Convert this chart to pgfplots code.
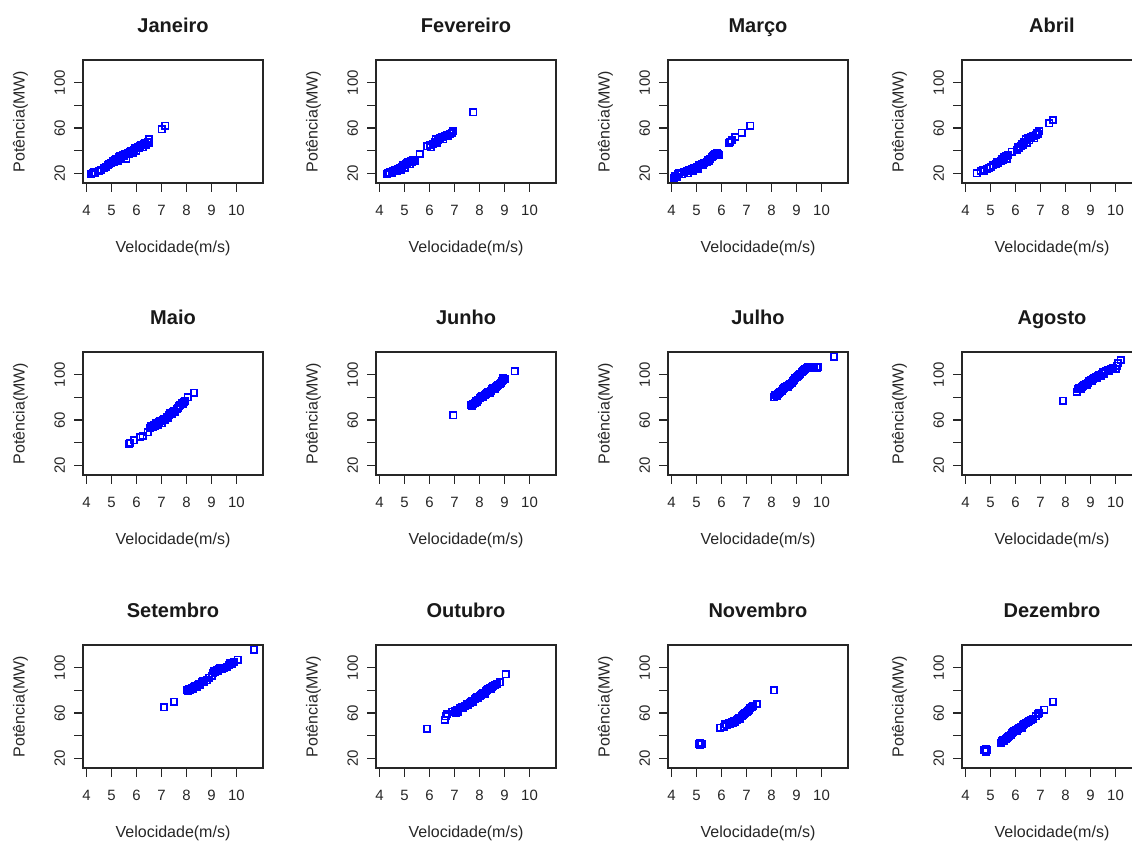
\documentclass[border=0pt]{standalone}
\usepackage{fontspec}
\setmainfont{Liberation Sans}
\usepackage{pgfplots}
\pgfplotsset{compat=1.18}
\pgfplotsset{
  panel/.style={
    scale only axis, width=135pt, height=92.25pt,
    xmin=3.86, xmax=11.06, ymin=11.5, ymax=120,
    xtick={4,5,6,7,8,9,10}, xticklabels={4,5,6,7,8,9,10},
    ytick={20,40,60,80,100}, yticklabels={20,,60,,100},
    /pgf/number format/assume math mode=true,
    tick align=outside, major tick length=6.5pt,
    xtick pos=bottom, ytick pos=left,
    tick style={black!85, line width=0.8pt},
    axis line style={black!85, line width=0.9pt},
    ticklabel style={font=\fontsize{11.2}{13}\selectfont, text=black!85},
    xticklabel shift=6.8pt,
    yticklabel style={rotate=90, anchor=south},
    yticklabel shift=3.5pt,
    every axis title/.style={at={(axis description cs:0.5,1.222)}, anchor=base, font=\bfseries\fontsize{15}{18}\selectfont, text=black!90},
    every axis x label/.style={at={(axis description cs:0.5,-0.528)}, anchor=center, font=\fontsize{12}{14}\selectfont, text=black!85},
    every axis y label/.style={at={(axis description cs:-0.348,0.5)}, anchor=center, rotate=90, font=\fontsize{12}{14}\selectfont, text=black!85},
    xlabel={Velocidade(m/s)}, ylabel={Potência(MW)},
  },
  pts/.style={only marks, mark=square, color=blue, mark size=2.4pt, mark options={solid, line width=1.2pt}},
}
\begin{document}
\begin{tikzpicture}
\useasboundingbox (0,0) rectangle (849pt,-631.5pt);
\clip (0,0) rectangle (849pt,-631.5pt);
% Row 1
\begin{axis}[panel, title={Janeiro}, at={(62.25pt,-45pt)}, anchor=north west]
\addplot[pts] coordinates {(4.2,19)(4.25,20)(4.3,21)(4.35,20)(4.5,22)(4.6,23)(4.7,25)(4.8,26)(4.85,27)(4.9,28)(5.0,29)(5.05,31)(5.1,30)(5.15,32)(5.2,33)(5.25,31)(5.3,34)(5.35,35)(5.4,33)(5.45,36)(5.5,35)(5.55,37)(5.6,33)(5.65,38)(5.7,37)(5.75,39)(5.8,40)(5.85,38)(5.9,41)(5.95,42)(6.0,40)(6.05,43)(6.1,42)(6.15,44)(6.2,45)(6.25,43)(6.3,46)(6.35,47)(6.4,45)(6.45,48)(6.5,50)(6.5,47)(7.0,59)(7.15,62)};
\end{axis}
\begin{axis}[panel, title={Fevereiro}, at={(282pt,-45pt)}, anchor=north west]
\addplot[pts] coordinates {(4.3,19)(4.35,20)(4.4,21)(4.5,20)(4.55,22)(4.6,23)(4.7,22)(4.75,24)(4.8,25)(4.85,23)(4.9,26)(4.95,27)(5.0,25)(5.05,28)(5.1,29)(5.15,30)(5.2,28)(5.25,31)(5.3,30)(5.35,32)(5.4,31)(5.6,37)(5.9,44)(6.0,45)(6.05,43)(6.15,46)(6.2,48)(6.25,50)(6.3,47)(6.35,49)(6.4,51)(6.5,52)(6.55,50)(6.6,53)(6.7,54)(6.75,53)(6.8,55)(6.9,56)(6.95,57)(7.75,74)};
\end{axis}
\begin{axis}[panel, title={Março}, at={(501pt,-45pt)}, anchor=north west]
\addplot[pts] coordinates {(4.1,16)(4.15,18)(4.2,17)(4.25,19)(4.3,20)(4.4,19)(4.5,21)(4.6,22)(4.65,20)(4.7,23)(4.8,24)(4.85,22)(4.9,25)(5.0,26)(5.05,24)(5.1,27)(5.2,28)(5.25,27)(5.3,29)(5.4,30)(5.45,32)(5.5,31)(5.55,33)(5.6,34)(5.65,35)(5.7,36)(5.75,37)(5.8,38)(5.85,37)(5.9,36)(6.3,47)(6.35,48)(6.4,49)(6.55,52)(6.8,56)(7.15,62)};
\end{axis}
\begin{axis}[panel, title={Abril}, at={(721.5pt,-45pt)}, anchor=north west]
\addplot[pts] coordinates {(4.45,20)(4.6,22)(4.7,23)(4.75,22)(4.85,24)(4.95,25)(5.0,26)(5.1,27)(5.2,28)(5.25,30)(5.3,29)(5.4,31)(5.45,33)(5.5,32)(5.55,34)(5.6,35)(5.65,33)(5.7,36)(5.85,39)(6.05,41)(6.1,43)(6.15,42)(6.2,44)(6.25,46)(6.3,45)(6.35,48)(6.4,50)(6.45,47)(6.5,51)(6.55,49)(6.6,52)(6.7,53)(6.75,51)(6.8,54)(6.85,56)(6.9,55)(6.95,57)(7.35,64)(7.5,67)};
\end{axis}
% Row 2
\begin{axis}[panel, title={Maio}, at={(62.25pt,-264pt)}, anchor=north west]
\addplot[pts] coordinates {(5.7,39)(5.75,40)(5.9,42)(6.15,45)(6.25,46)(6.45,49)(6.55,53)(6.6,55)(6.65,54)(6.7,56)(6.75,55)(6.8,57)(6.85,56)(6.9,58)(6.95,59)(7.0,57)(7.05,60)(7.1,61)(7.15,60)(7.2,63)(7.25,62)(7.3,64)(7.35,66)(7.4,65)(7.45,67)(7.5,68)(7.55,67)(7.6,70)(7.65,71)(7.7,72)(7.75,73)(7.8,75)(7.85,74)(7.9,76)(7.95,77)(8.05,80)(8.3,84)};
\end{axis}
\begin{axis}[panel, title={Junho}, at={(282pt,-264pt)}, anchor=north west]
\addplot[pts] coordinates {(6.95,64)(7.65,73)(7.7,72)(7.75,74)(7.8,75)(7.85,77)(7.9,76)(7.95,78)(8.0,79)(8.05,80)(8.1,81)(8.15,80)(8.2,82)(8.25,83)(8.3,84)(8.35,85)(8.4,84)(8.45,86)(8.5,87)(8.55,88)(8.6,87)(8.65,89)(8.7,90)(8.75,91)(8.8,92)(8.85,93)(8.9,94)(8.95,95)(9.0,96)(8.95,97)(9.4,103)};
\end{axis}
\begin{axis}[panel, title={Julho}, at={(501pt,-264pt)}, anchor=north west]
\addplot[pts] coordinates {(8.1,80)(8.15,82)(8.2,81)(8.25,83)(8.3,84)(8.35,85)(8.4,86)(8.45,87)(8.5,88)(8.55,89)(8.6,90)(8.65,89)(8.7,91)(8.75,92)(8.8,93)(8.85,94)(8.9,95)(8.95,97)(9.0,98)(9.05,99)(9.1,100)(9.15,101)(9.2,102)(9.25,103)(9.3,104)(9.35,105)(9.4,106)(9.45,107)(9.5,106)(9.6,107)(9.7,107)(9.8,106)(9.85,107)(10.5,116)};
\end{axis}
\begin{axis}[panel, title={Agosto}, at={(721.5pt,-264pt)}, anchor=north west]
\addplot[pts] coordinates {(7.9,77)(8.45,85)(8.5,87)(8.55,88)(8.6,87)(8.65,89)(8.7,90)(8.75,91)(8.8,92)(8.85,91)(8.9,93)(8.95,94)(9.0,95)(9.05,94)(9.1,96)(9.15,97)(9.2,98)(9.25,97)(9.3,99)(9.35,100)(9.4,99)(9.45,101)(9.5,102)(9.55,101)(9.6,103)(9.7,104)(9.75,103)(9.8,105)(9.9,106)(10.0,105)(10.05,108)(10.1,110)(10.2,113)};
\end{axis}
% Row 3
\begin{axis}[panel, title={Setembro}, at={(62.25pt,-483.75pt)}, anchor=north west]
\addplot[pts] coordinates {(7.1,65)(7.5,70)(8.0,80)(8.05,79)(8.1,81)(8.15,80)(8.2,82)(8.25,81)(8.3,83)(8.35,84)(8.4,83)(8.45,85)(8.5,86)(8.55,85)(8.6,87)(8.65,88)(8.7,87)(8.8,89)(8.9,91)(9.0,93)(9.05,95)(9.1,97)(9.15,96)(9.2,98)(9.25,97)(9.3,99)(9.35,100)(9.4,99)(9.5,100)(9.6,101)(9.7,102)(9.75,104)(9.8,103)(9.9,105)(10.05,107)(10.7,116)};
\end{axis}
\begin{axis}[panel, title={Outubro}, at={(282pt,-483.75pt)}, anchor=north west]
\addplot[pts] coordinates {(5.9,46)(6.6,54)(6.65,57)(6.7,59)(6.9,61)(7.0,62)(7.05,60)(7.1,63)(7.15,61)(7.2,64)(7.3,65)(7.35,64)(7.4,66)(7.5,68)(7.55,67)(7.6,69)(7.65,70)(7.7,71)(7.75,70)(7.8,72)(7.85,73)(7.9,74)(7.95,73)(8.0,75)(8.05,76)(8.1,77)(8.15,78)(8.2,77)(8.25,79)(8.3,80)(8.35,81)(8.4,82)(8.45,81)(8.5,83)(8.55,84)(8.6,85)(8.7,86)(8.8,87)(9.05,94)};
\end{axis}
\begin{axis}[panel, title={Novembro}, at={(501pt,-483.75pt)}, anchor=north west]
\addplot[pts] coordinates {(5.1,33)(5.15,34)(5.2,33)(5.15,32)(5.95,47)(6.1,48)(6.15,50)(6.2,49)(6.3,51)(6.35,50)(6.4,52)(6.45,51)(6.5,53)(6.55,52)(6.6,54)(6.65,55)(6.7,56)(6.75,55)(6.8,57)(6.85,58)(6.9,59)(6.95,60)(7.0,61)(7.05,62)(7.1,63)(7.15,64)(7.2,65)(7.25,66)(7.4,68)(8.1,80)};
\end{axis}
\begin{axis}[panel, title={Dezembro}, at={(721.5pt,-483.75pt)}, anchor=north west]
\addplot[pts] coordinates {(4.75,27)(4.8,28)(4.85,27)(4.8,26)(5.4,34)(5.45,35)(5.5,36)(5.55,35)(5.6,37)(5.65,38)(5.7,39)(5.75,40)(5.8,41)(5.85,42)(5.9,43)(5.95,44)(6.0,45)(6.05,44)(6.1,46)(6.15,47)(6.2,48)(6.25,47)(6.3,49)(6.35,50)(6.4,51)(6.5,52)(6.55,53)(6.6,54)(6.7,55)(6.8,57)(6.9,59)(6.95,60)(7.15,63)(7.5,70)};
\end{axis}
\end{tikzpicture}
\end{document}
